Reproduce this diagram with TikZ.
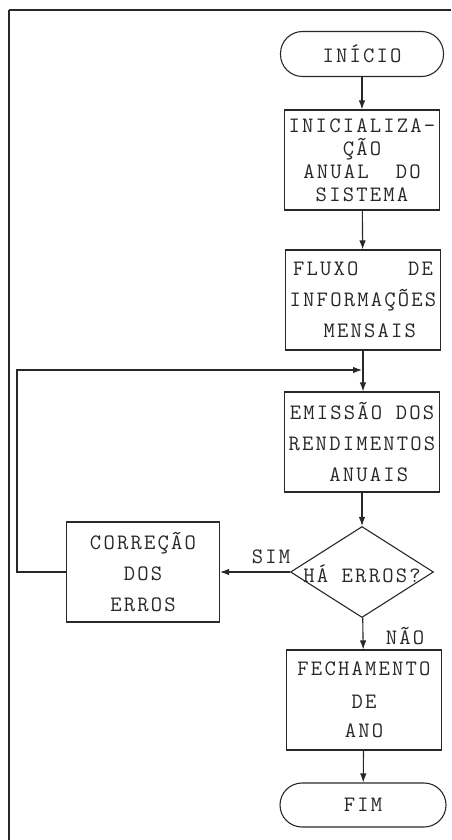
\documentclass[tikz,border=0pt]{standalone}
\usepackage{fontspec}
\setmonofont[LetterSpace=10]{Latin Modern Mono}
\usetikzlibrary{shapes.geometric,arrows.meta}
\definecolor{ink}{RGB}{40,40,40}
\begin{document}
\begin{tikzpicture}[x=1pt,y=-1pt, line width=1.1pt, draw=ink,
  every node/.style={font=\ttfamily\fontsize{22}{23}\selectfont, text=ink},
  proc/.style={draw, rectangle, minimum width=155pt, minimum height=100pt, inner sep=0pt, align=center},
  term/.style={draw, rectangle, rounded corners=22pt, minimum width=163pt, minimum height=45pt, inner sep=0pt},
  decision/.style={draw, diamond, minimum width=143pt, minimum height=91pt, inner sep=0pt},
  arr/.style={-{Latex[length=9pt,width=6.5pt]}}]
\useasboundingbox (0,0) rectangle (451,840);
% page frame
\draw (9,10) -- (451,10);
\draw (9,10) -- (9,840);

\node[term] (ini) at (362,54) {INÍCIO};
\node[proc] (b1) at (362,160) {INICIALIZA-\\ÇÃO\\ANUAL\ \ DO\\SISTEMA};
\node[proc] (b2) at (363,300) {\makebox[140pt][s]{FLUXO\hfill DE}\\[8pt]INFORMAÇÕES\\[8pt]\ MENSAIS};
\node[proc] (b3) at (362,442) {EMISSÃO DOS\\[8pt]RENDIMENTOS\\[8pt]\ ANUAIS};
\node[decision] (dia) at (362,572) {};
\node (diat) at (362,574) {HÁ ERROS?};
\node[proc, minimum width=153pt] (cor) at (143,572) {CORREÇÃO\\[8pt]DOS\\[8pt]ERROS};
\node[proc] (b4) at (364,700) {FECHAMENTO\\[10pt]DE\\[6pt]ANO};
\node[term, minimum width=166pt, minimum height=44pt] (fim) at (363,805) {FIM};

\node (sim) at (271,557) {SIM};
\node (nao) at (405,636) {NÃO};

\coordinate (j) at (362,370);
\coordinate (lp) at (17,370);

\draw[arr] (ini) -- (b1);
\draw[arr] (b1) -- (b2);
\draw[arr] (b2.south) -- (b2.south |- b3.north);
\draw[arr] (b3) -- (dia);
\draw[arr] (dia) -- (b4);
\draw[arr] (b4) -- (fim);
\draw[arr] (dia.west) -- (cor.east);
\draw[arr] (cor.west) -| (lp) -- (j);
\end{tikzpicture}
\end{document}
